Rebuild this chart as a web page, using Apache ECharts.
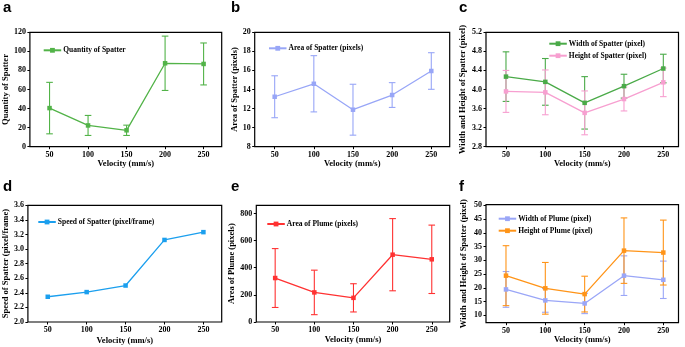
<!DOCTYPE html>
<html>
<head>
<meta charset="utf-8">
<script src="https://cdn.jsdelivr.net/npm/echarts@6/dist/echarts.min.js"></script>
<style>html,body{margin:0;padding:0;background:#fff}#c{width:685px;height:347px}</style>
</head>
<body>
<div id="c"></div>
<script>
// ---- data ----
const velocities = [50, 100, 150, 200, 250];
const xTickLabels = ['50', '100', '150', '200', '250'];

const spatterQuantity = [40.5, 22.3, 17.2, 87.5, 86.8];
const spatterQuantityErr = [27, 10.5, 5.4, 28.5, 22];

const spatterArea = [13.24, 14.6, 11.88, 13.42, 15.94];
const spatterAreaErr = [2.2, 2.95, 2.67, 1.3, 1.92];

const spatterWidth = [4.27, 4.16, 3.72, 4.07, 4.44];
const spatterWidthErr = [0.52, 0.49, 0.55, 0.25, 0.3];
const spatterHeight = [3.96, 3.94, 3.51, 3.80, 4.15];
const spatterHeightErr = [0.44, 0.47, 0.46, 0.25, 0.3];

const spatterSpeed = [2.346, 2.41, 2.50, 3.125, 3.232];

const plumeArea = [324, 218, 178, 496, 462];
const plumeAreaErr = [217, 164, 104, 266, 252];

const plumeWidth = [19.4, 15.4, 14.3, 24.4, 22.9];
const plumeWidthErr = [6.5, 4.3, 3.7, 7.2, 6.8];
const plumeHeight = [24.4, 19.8, 17.7, 33.5, 32.8];
const plumeHeightErr = [10.9, 9.4, 6.5, 11.9, 11.8];

const yTicksA = [0, 20, 40, 60, 80, 100, 120];
const yTicksB = [8, 10, 12, 14, 16, 18, 20];
const yTicksC = [2.8, 3.2, 3.6, 4.0, 4.4, 4.8, 5.2];
const yTicksD = [2.0, 2.2, 2.4, 2.6, 2.8, 3.0, 3.2, 3.4, 3.6];
const yTicksE = [0, 200, 400, 600, 800];
const yTicksF = [10, 15, 20, 25, 30, 35, 40, 45, 50];

// ---- styling ----
const SERIF = '"Liberation Serif", "Times New Roman", serif';
const COL = {
  a: '#52b348', b: '#98a6f7', cW: '#4aaa48', cH: '#f79fd0',
  d: '#1b9fee', e: '#ff3232', fW: '#9aa6f7', fH: '#ff9418'
};

const grids = [
  {left: 26.7, top: 32.3, width: 195, height: 114.4},
  {left: 254.7, top: 32.3, width: 195, height: 114.4},
  {left: 486, top: 32.3, width: 192.5, height: 114.4},
  {left: 26.7, top: 205.3, width: 195, height: 116.7},
  {left: 256.3, top: 205.3, width: 193.4, height: 116.7},
  {left: 486, top: 204.7, width: 192.5, height: 118}
].map(g => Object.assign({show: true, borderColor: '#000', borderWidth: 1.2, backgroundColor: 'transparent'}, g));

const xRanges = [[24.5, 273.5], [24.5, 273.5], [24.6, 269.3], [24.5, 273.5], [25.9, 272.9], [24.6, 269.3]];
const xNameGaps = [13, 13, 13, 14, 13, 13];

const xAxes = xRanges.map((r, i) => ({
  gridIndex: i, type: 'value', min: r[0], max: r[1],
  axisLine: {show: false},
  splitLine: {show: false},
  axisTick: {show: true, inside: false, length: 2.5, customValues: velocities, lineStyle: {color: '#000', width: 1}},
  axisLabel: {customValues: velocities, margin: 4, color: '#000', fontFamily: SERIF, fontWeight: 'bold', fontSize: 8,
    formatter: v => xTickLabels[velocities.indexOf(v)]},
  name: 'Velocity (mm/s)', nameLocation: 'middle', nameGap: xNameGaps[i],
  nameTextStyle: {color: '#000', fontFamily: SERIF, fontWeight: 'bold', fontSize: 8.5}
}));

function yAxis(i, min, max, ticks, name, gap, dec) {
  return {
    gridIndex: i, type: 'value', min: min, max: max,
    axisLine: {show: false}, splitLine: {show: false},
    axisTick: {show: true, inside: false, length: 2.5, customValues: ticks, lineStyle: {color: '#000', width: 1}},
    axisLabel: {customValues: ticks, margin: 4, color: '#000', fontFamily: SERIF, fontWeight: 'bold', fontSize: 8,
      formatter: v => v.toFixed(dec)},
    name: name, nameLocation: 'middle', nameGap: gap, nameRotate: 90,
    nameTextStyle: {color: '#000', fontFamily: SERIF, fontWeight: 'bold', fontSize: 8.5}
  };
}

const yAxes = [
  yAxis(0, 0, 120, yTicksA, 'Quantity of Spatter', 17.5, 0),
  yAxis(1, 8, 20, yTicksB, 'Area of Spatter (pixels)', 14, 0),
  yAxis(2, 2.8, 5.2, yTicksC, 'Width and Height of Spatter (pixel)', 19, 1),
  yAxis(3, 2.0, 3.6, yTicksD, 'Speed of Spatter (pixel/frame)', 16.5, 1),
  yAxis(4, 0, 860, yTicksE, 'Area of Plume (pixels)', 18, 0),
  yAxis(5, 7.3, 50.2, yTicksF, 'Width and Height of Spatter (pixel)', 17.5, 0)
];

function lineSeries(idx, name, vals, color) {
  return {
    type: 'line', name: name, xAxisIndex: idx, yAxisIndex: idx,
    data: vals.map((v, i) => [velocities[i], v]),
    symbol: 'rect', symbolSize: 4.5, showSymbol: true,
    itemStyle: {color: color},
    lineStyle: {color: color, width: 1.3},
    z: 3, animation: false
  };
}

function errSeries(idx, vals, errs, color) {
  return {
    type: 'custom', xAxisIndex: idx, yAxisIndex: idx, silent: true, animation: false, z: 2,
    data: vals.map((v, i) => [velocities[i], v - errs[i], v + errs[i]]),
    encode: {x: 0, y: [1, 2]},
    renderItem: (params, api) => {
      const x = api.value(0), lo = api.value(1), hi = api.value(2);
      const p1 = api.coord([x, hi]), p2 = api.coord([x, lo]);
      const w = 3.3;
      const st = {stroke: color, lineWidth: 1.1};
      return {type: 'group', children: [
        {type: 'line', shape: {x1: p1[0], y1: p1[1], x2: p2[0], y2: p2[1]}, style: st},
        {type: 'line', shape: {x1: p1[0] - w, y1: p1[1], x2: p1[0] + w, y2: p1[1]}, style: st},
        {type: 'line', shape: {x1: p2[0] - w, y1: p2[1], x2: p2[0] + w, y2: p2[1]}, style: st}
      ]};
    }
  };
}

const series = [
  errSeries(0, spatterQuantity, spatterQuantityErr, COL.a),
  lineSeries(0, 'Quantity of Spatter', spatterQuantity, COL.a),
  errSeries(1, spatterArea, spatterAreaErr, COL.b),
  lineSeries(1, 'Area of Spatter (pixels)', spatterArea, COL.b),
  errSeries(2, spatterWidth, spatterWidthErr, COL.cW),
  errSeries(2, spatterHeight, spatterHeightErr, COL.cH),
  lineSeries(2, 'Width of Spatter (pixel)', spatterWidth, COL.cW),
  lineSeries(2, 'Height of Spatter (pixel)', spatterHeight, COL.cH),
  lineSeries(3, 'Speed of Spatter (pixel/frame)', spatterSpeed, COL.d),
  errSeries(4, plumeArea, plumeAreaErr, COL.e),
  lineSeries(4, 'Area of Plume (pixels)', plumeArea, COL.e),
  errSeries(5, plumeWidth, plumeWidthErr, COL.fW),
  errSeries(5, plumeHeight, plumeHeightErr, COL.fH),
  lineSeries(5, 'Width of Plume (pixel)', plumeWidth, COL.fW),
  lineSeries(5, 'Height of Plume (pixel)', plumeHeight, COL.fH)
];

function legend(names, left, top) {
  return {
    data: names, left: left, top: top, orient: 'vertical',
    itemWidth: 17.5, itemHeight: 6, itemGap: 4, padding: 0, selectedMode: false,
    textStyle: {color: '#000', fontFamily: SERIF, fontWeight: 'bold', fontSize: 7.5, padding: [0, 0, 0, -3]}
  };
}

const legends = [
  legend(['Quantity of Spatter'], 42.7, 46.3),
  legend(['Area of Spatter (pixels)'], 268, 44.3),
  legend(['Width of Spatter (pixel)', 'Height of Spatter (pixel)'], 548.3, 39.7),
  legend(['Speed of Spatter (pixel/frame)'], 37.3, 218),
  legend(['Area of Plume (pixels)'], 266.3, 220),
  legend(['Width of Plume (pixel)', 'Height of Plume (pixel)'], 497.7, 214.7)
];

function letter(t, left, top) {
  return {text: t, left: left, top: top, padding: 0,
    textStyle: {fontFamily: '"Liberation Sans", Arial, sans-serif', fontWeight: 'bold', fontSize: 15, color: '#000'}};
}
const titles = [
  letter('a', 3, 0), letter('b', 231, 0), letter('c', 459, 0),
  letter('d', 3, 179), letter('e', 231, 179), letter('f', 459, 179)
];

const chart = echarts.init(document.getElementById('c'), null, {renderer: 'canvas'});
chart.setOption({
  animation: false,
  backgroundColor: '#fff',
  title: titles,
  legend: legends,
  grid: grids,
  xAxis: xAxes,
  yAxis: yAxes,
  series: series
});
</script>
</body>
</html>
